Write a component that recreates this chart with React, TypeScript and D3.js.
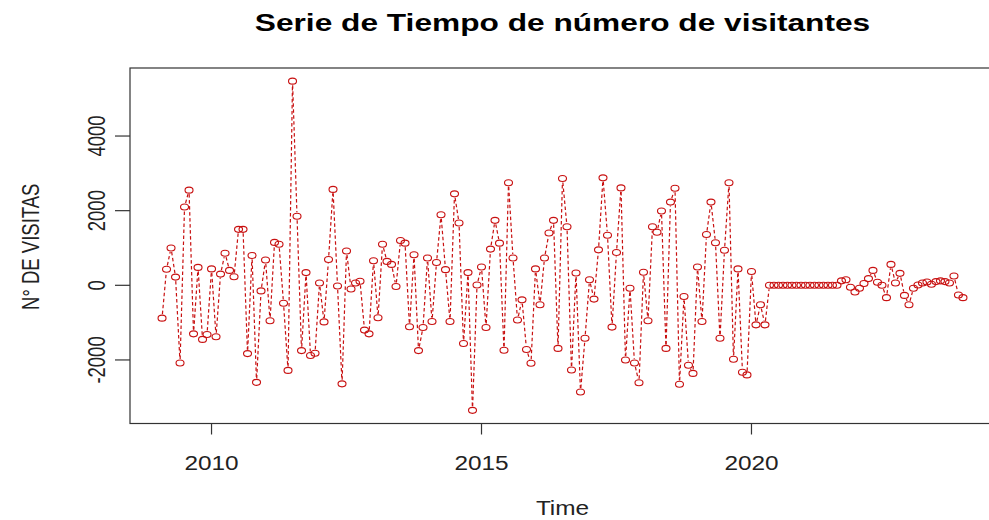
import React from "react";
import * as d3 from "d3";

const startYear = 2009;
const startMonth = 2; // February 2009 (differenced series)
const visitas: number[] = [
  -880, 430, 1000, 220, -2080, 2100, 2550, -1300, 480, -1450, -1320, 440,
  -1380, 300, 860, 400, 230, 1500, 1500, -1830, 800, -2600, -150, 680,
  -950, 1150, 1100, -480, -2280, 5470, 1850, -1750, 340, -1880, -1820, 60,
  -980, 690, 2570, -20, -2640, 920, -100, 60, 110, -1200, -1300, 660,
  -870, 1100, 640, 560, -30, 1200, 1130, -1110, 820, -1750, -1130, 730,
  -970, 610, 1890, 420, -970, 2450, 1670, -1560, 340, -3350, 10, 490,
  -1130, 970, 1740, 1130, -1740, 2750, 730, -930, -390, -1720, -2090, 440,
  -520, 730, 1400, 1740, -1690, 2860, 1570, -2270, 330, -2860, -1420, 150,
  -370, 950, 2880, 1340, -1120, 880, 2610, -2000, -80, -2080, -2610, 350,
  -950, 1570, 1420, 1990, -1690, 2230, 2600, -2650, -300, -2140, -2360, 490,
  -970, 1360, 2230, 1140, -1420, 940, 2750, -1980, 440, -2330, -2400, 370,
  -1060, -520, -1060, 0, 0, 0, 0, 0, 0, 0, 0, 0,
  0, 0, 0, 0, 0, 0, 0, 120, 150, -50, -180, -80,
  50, 180, 400, 80, 0, -330, 560, 60, 320, -270, -520, -80,
  10, 60, 90, 30, 100, 120, 100, 60, 250, -260, -330,
];
const xTicks = [2010, 2015, 2020];
const yTicks = [-2000, 0, 2000, 4000];
const title = "Serie de Tiempo de número de visitantes";
const xLabel = "Time";
const yLabel = "N° DE VISITAS";

export default function App() {
  const W = 989, H = 520;
  const left = 130, right = 995, top = 68, bottom = 423.5;
  const sx = 1.25;
  const font = "'Liberation Sans', Arial, sans-serif";
  const red = "#c81010";
  const rx = 4, ry = 3;

  const times = visitas.map((_, i) => startYear + (startMonth - 1 + i) / 12);
  const [t0, t1] = d3.extent(times) as [number, number];
  const tx = (t1 - t0) * 0.04;
  const x = d3.scaleLinear().domain([t0 - tx, t1 + tx]).range([left, right]);
  const [v0, v1] = d3.extent(visitas) as [number, number];
  const vy = (v1 - v0) * 0.04;
  const y = d3.scaleLinear().domain([v0 - vy, v1 + vy]).range([bottom, top]);

  const pts = times.map((t, i) => [x(t), y(visitas[i])] as [number, number]);
  const segs: [number, number, number, number][] = [];
  for (let i = 0; i < pts.length - 1; i++) {
    const [x0, y0] = pts[i];
    const [x1, y1] = pts[i + 1];
    const dx = x1 - x0, dy = y1 - y0;
    const len = Math.hypot(dx, dy);
    const ux = dx / len, uy = dy / len;
    const gap = 1 / Math.sqrt((ux / rx) ** 2 + (uy / ry) ** 2) + 1;
    if (len > 2 * gap) {
      segs.push([x0 + ux * gap, y0 + uy * gap, x1 - ux * gap, y1 - uy * gap]);
    }
  }

  return (
    <>
      <style>{`body{margin:0}`}</style>
      <svg width={W} height={H} style={{ display: "block", background: "#fff" }} fontFamily={font}>
        <text transform={`translate(${(left + right) / 2},31) scale(1.32,1)`} textAnchor="middle" fontWeight="bold" fontSize={24} fill="#000">
          {title}
        </text>
        {segs.map((s, i) => (
          <line key={"s" + i} x1={s[0]} y1={s[1]} x2={s[2]} y2={s[3]} stroke={red} strokeWidth={1.2} strokeDasharray="3.5,2.5" />
        ))}
        {pts.map((p, i) => (
          <ellipse key={"p" + i} cx={p[0]} cy={p[1]} rx={rx} ry={ry} fill="none" stroke={red} strokeWidth={1.1} />
        ))}
        <rect x={left} y={top} width={right - left} height={bottom - top} fill="none" stroke="#333" strokeWidth={1.2} />
        {xTicks.map((t) => (
          <g key={"xt" + t}>
            <line x1={x(t)} x2={x(t)} y1={bottom} y2={bottom + 11} stroke="#333" strokeWidth={1.2} />
            <text transform={`translate(${x(t)},470) scale(${sx},1)`} textAnchor="middle" fontSize={19.5} fill="#222">{t}</text>
          </g>
        ))}
        {yTicks.map((t) => (
          <g key={"yt" + t}>
            <line x1={left - 15} x2={left} y1={y(t)} y2={y(t)} stroke="#333" strokeWidth={1.2} />
            <text transform={`translate(105,${y(t)}) scale(${sx},1) rotate(-90)`} textAnchor="middle" fontSize={18.5} fill="#222">{t}</text>
          </g>
        ))}
        <text transform={`translate(${(left + right) / 2},515) scale(${sx},1)`} textAnchor="middle" fontSize={19.5} fill="#222">{xLabel}</text>
        <text transform={`translate(39,${(top + bottom) / 2 + 1}) scale(${sx},1) rotate(-90)`} textAnchor="middle" fontSize={18.5} fill="#222">{yLabel}</text>
      </svg>
    </>
  );
}
